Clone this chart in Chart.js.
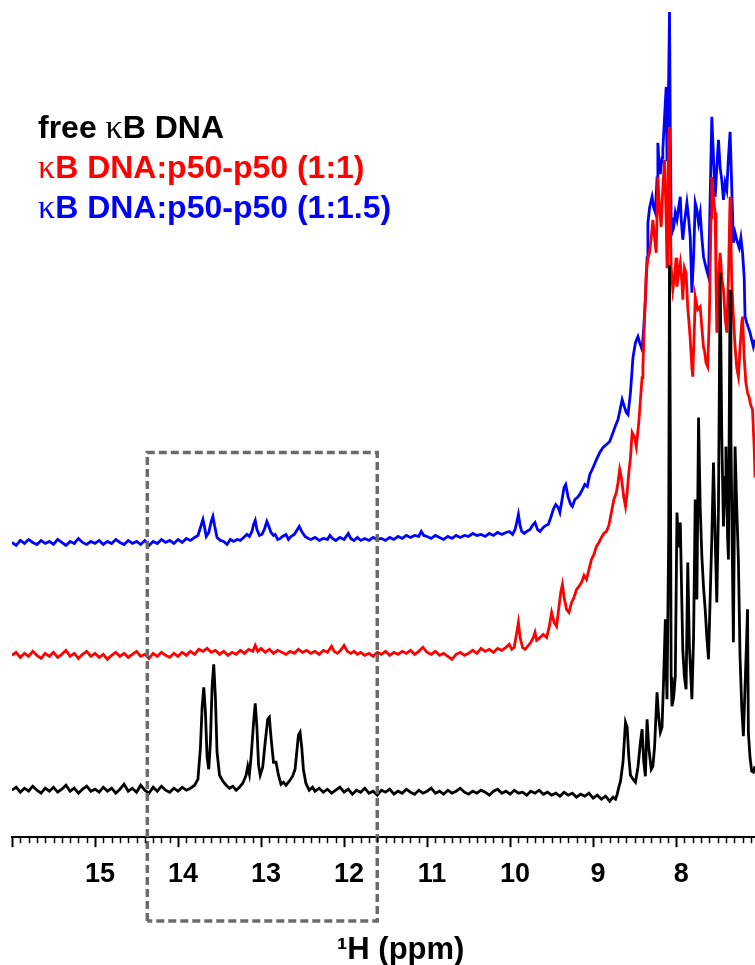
<!DOCTYPE html>
<html>
<head>
<meta charset="utf-8">
<script src="https://cdn.jsdelivr.net/npm/chart.js@4.4.1/dist/chart.umd.min.js"></script>
<style>
    body { margin: 0; background: #fff; }
    #wrap { width: 755px; height: 965px; }
</style>
</head>
<body>
<div id="wrap"><canvas id="nmrChart"></canvas></div>
<script>
// 1H NMR imino / aromatic region, [ppm, intensity (a.u., offset stacked)]
const freeDNA = [
    [16.00, 47], [15.95, 50], [15.90, 45], [15.85, 49], [15.80, 46], [15.75, 51], [15.70, 47], [15.65, 44],
    [15.60, 49], [15.55, 46], [15.50, 50], [15.45, 45], [15.40, 48], [15.35, 52], [15.30, 46], [15.25, 49],
    [15.20, 44], [15.15, 48], [15.10, 51], [15.05, 46], [15.00, 48], [14.95, 45], [14.90, 50], [14.85, 46],
    [14.80, 49], [14.75, 44], [14.70, 48], [14.65, 53], [14.60, 46], [14.55, 49], [14.50, 45], [14.45, 52],
    [14.40, 47], [14.35, 44], [14.30, 50], [14.25, 46], [14.20, 51], [14.15, 47], [14.10, 45], [14.05, 49],
    [14.00, 46], [13.95, 50], [13.90, 47], [13.85, 49], [13.80, 52], [13.76, 58], [13.73, 90], [13.71, 130],
    [13.69, 150], [13.67, 125], [13.65, 80], [13.63, 68], [13.61, 95], [13.59, 150], [13.57, 173], [13.55, 140],
    [13.53, 85], [13.50, 62], [13.46, 56], [13.42, 52], [13.38, 49], [13.34, 51], [13.30, 47], [13.26, 50],
    [13.22, 54], [13.18, 62], [13.16, 71], [13.14, 63], [13.12, 80], [13.09, 115], [13.07, 134], [13.05, 110],
    [13.03, 72], [13.01, 62], [12.98, 70], [12.95, 95], [12.92, 118], [12.90, 120], [12.88, 100], [12.85, 75],
    [12.82, 75], [12.79, 62], [12.76, 53], [12.73, 55], [12.70, 52], [12.66, 56], [12.62, 61], [12.59, 68],
    [12.57, 85], [12.55, 102], [12.53, 105], [12.51, 90], [12.49, 68], [12.46, 54], [12.42, 47], [12.38, 50],
    [12.35, 46], [12.30, 49], [12.25, 45], [12.20, 48], [12.15, 44], [12.10, 47], [12.05, 50], [12.00, 45],
    [11.95, 48], [11.90, 43], [11.85, 47], [11.80, 45], [11.75, 49], [11.70, 44], [11.65, 46], [11.60, 42],
    [11.55, 47], [11.50, 45], [11.45, 48], [11.40, 43], [11.35, 46], [11.30, 44], [11.25, 48], [11.20, 45],
    [11.15, 43], [11.10, 47], [11.05, 44], [11.00, 46], [10.95, 49], [10.90, 44], [10.85, 46], [10.80, 43],
    [10.75, 47], [10.70, 44], [10.65, 46], [10.60, 49], [10.55, 45], [10.50, 43], [10.45, 46], [10.40, 44],
    [10.35, 47], [10.30, 45], [10.25, 42], [10.20, 46], [10.15, 48], [10.10, 44], [10.05, 46], [10.00, 43],
    [9.95, 47], [9.90, 44], [9.85, 45], [9.80, 42], [9.75, 46], [9.70, 44], [9.65, 47], [9.60, 43],
    [9.55, 45], [9.50, 42], [9.45, 44], [9.40, 41], [9.35, 45], [9.30, 42], [9.25, 44], [9.20, 40],
    [9.15, 43], [9.10, 41], [9.05, 44], [9.00, 39], [8.95, 42], [8.90, 38], [8.85, 41], [8.80, 36],
    [8.76, 40], [8.73, 38], [8.71, 43], [8.69, 50], [8.67, 56], [8.64, 75], [8.61, 115], [8.59, 110],
    [8.57, 80], [8.55, 62], [8.52, 58], [8.49, 55], [8.46, 70], [8.43, 95], [8.41, 108], [8.39, 75],
    [8.37, 61], [8.35, 118], [8.33, 90], [8.30, 68], [8.28, 71], [8.26, 90], [8.23, 145], [8.21, 120],
    [8.19, 105], [8.17, 110], [8.15, 160], [8.13, 218], [8.12, 170], [8.11, 138], [8.09, 300], [8.08, 573],
    [8.07, 400], [8.06, 160], [8.05, 131], [8.03, 140], [8.01, 161], [7.99, 325], [7.97, 290], [7.95, 315],
    [7.93, 230], [7.92, 188], [7.90, 160], [7.88, 148], [7.86, 275], [7.84, 190], [7.81, 138], [7.79, 200],
    [7.77, 338], [7.75, 238], [7.73, 420], [7.71, 330], [7.69, 281], [7.67, 250], [7.65, 228], [7.63, 200],
    [7.61, 178], [7.59, 240], [7.57, 300], [7.55, 375], [7.53, 300], [7.51, 235], [7.49, 330], [7.47, 565],
    [7.45, 400], [7.43, 311], [7.41, 360], [7.40, 391], [7.38, 300], [7.37, 278], [7.36, 420], [7.35, 548],
    [7.34, 400], [7.32, 260], [7.31, 195], [7.30, 300], [7.29, 391], [7.27, 330], [7.25, 278], [7.23, 180],
    [7.21, 130], [7.19, 101], [7.17, 150], [7.15, 200], [7.14, 228], [7.13, 105], [7.11, 80], [7.09, 66],
    [7.07, 65], [7.05, 71]
];

const complex11 = [
    [16.00, 182], [15.95, 185], [15.90, 180], [15.85, 184], [15.80, 181], [15.75, 186], [15.70, 182], [15.65, 179],
    [15.60, 184], [15.55, 181], [15.50, 185], [15.45, 180], [15.40, 183], [15.35, 187], [15.30, 181], [15.25, 184],
    [15.20, 179], [15.15, 183], [15.10, 186], [15.05, 181], [15.00, 184], [14.95, 180], [14.90, 183], [14.85, 178],
    [14.80, 182], [14.75, 185], [14.70, 181], [14.65, 184], [14.60, 180], [14.55, 183], [14.50, 186], [14.45, 181],
    [14.40, 183], [14.35, 179], [14.30, 184], [14.25, 181], [14.20, 185], [14.15, 182], [14.10, 180], [14.05, 184],
    [14.00, 181], [13.95, 185], [13.90, 182], [13.85, 186], [13.80, 183], [13.75, 188], [13.70, 186], [13.65, 189],
    [13.60, 185], [13.55, 187], [13.50, 183], [13.45, 186], [13.40, 182], [13.35, 185], [13.30, 183], [13.25, 187],
    [13.20, 184], [13.15, 188], [13.10, 186], [13.07, 192], [13.04, 186], [13.00, 189], [12.95, 185], [12.90, 188],
    [12.85, 184], [12.80, 187], [12.75, 185], [12.70, 183], [12.65, 186], [12.60, 184], [12.55, 188], [12.50, 185],
    [12.45, 187], [12.40, 184], [12.35, 186], [12.30, 183], [12.25, 187], [12.20, 185], [12.15, 191], [12.12, 186],
    [12.08, 184], [12.04, 187], [12.00, 192], [11.96, 186], [11.92, 184], [11.88, 186], [11.84, 183], [11.80, 185],
    [11.75, 182], [11.70, 184], [11.65, 181], [11.60, 185], [11.55, 183], [11.50, 186], [11.45, 182], [11.40, 185],
    [11.35, 183], [11.30, 186], [11.25, 184], [11.20, 187], [11.15, 183], [11.10, 186], [11.05, 190], [11.00, 185],
    [10.95, 183], [10.90, 186], [10.85, 182], [10.80, 184], [10.75, 181], [10.70, 178], [10.65, 183], [10.60, 185],
    [10.55, 182], [10.50, 184], [10.45, 187], [10.40, 184], [10.35, 189], [10.30, 186], [10.25, 188], [10.20, 185],
    [10.15, 189], [10.10, 187], [10.05, 190], [10.01, 193], [9.98, 188], [9.95, 190], [9.92, 205], [9.90, 215],
    [9.88, 200], [9.85, 190], [9.82, 188], [9.78, 192], [9.75, 195], [9.72, 200], [9.70, 205], [9.68, 197],
    [9.65, 199], [9.60, 203], [9.56, 200], [9.53, 210], [9.50, 225], [9.47, 215], [9.44, 211], [9.42, 225],
    [9.39, 245], [9.37, 253], [9.35, 240], [9.32, 228], [9.29, 225], [9.26, 235], [9.23, 240], [9.20, 248],
    [9.17, 251], [9.14, 255], [9.11, 262], [9.08, 258], [9.05, 268], [9.02, 278], [8.99, 283], [8.96, 291],
    [8.93, 295], [8.90, 300], [8.87, 304], [8.84, 306], [8.81, 312], [8.78, 325], [8.75, 338], [8.72, 345],
    [8.70, 355], [8.68, 368], [8.66, 360], [8.63, 340], [8.61, 331], [8.59, 345], [8.57, 365], [8.55, 380],
    [8.53, 405], [8.50, 400], [8.48, 391], [8.45, 415], [8.43, 438], [8.41, 460], [8.40, 471], [8.38, 520],
    [8.36, 565], [8.34, 580], [8.32, 585], [8.30, 600], [8.28, 618], [8.26, 600], [8.24, 585], [8.22, 661],
    [8.20, 630], [8.18, 611], [8.16, 650], [8.14, 678], [8.12, 620], [8.11, 571], [8.10, 630], [8.09, 700],
    [8.08, 711], [8.07, 620], [8.06, 571], [8.04, 548], [8.02, 560], [8.00, 580], [7.99, 551], [7.97, 565],
    [7.95, 575], [7.93, 555], [7.92, 538], [7.90, 570], [7.88, 565], [7.86, 530], [7.84, 510], [7.83, 498],
    [7.81, 470], [7.80, 461], [7.78, 510], [7.77, 541], [7.74, 528], [7.71, 531], [7.69, 510], [7.67, 490],
    [7.66, 488], [7.64, 475], [7.62, 471], [7.60, 520], [7.58, 620], [7.57, 661], [7.55, 640], [7.53, 625],
    [7.52, 560], [7.51, 505], [7.49, 560], [7.47, 585], [7.45, 560], [7.43, 548], [7.41, 520], [7.39, 505],
    [7.37, 560], [7.35, 641], [7.34, 600], [7.33, 555], [7.31, 520], [7.29, 491], [7.27, 470], [7.25, 461],
    [7.23, 490], [7.21, 515], [7.20, 521], [7.18, 480], [7.16, 455], [7.14, 445], [7.12, 440], [7.10, 432],
    [7.08, 428], [7.06, 390], [7.05, 360]
];

const complex115 = [
    [16.00, 295], [15.95, 292], [15.90, 297], [15.85, 294], [15.80, 298], [15.75, 295], [15.70, 293], [15.65, 297],
    [15.60, 294], [15.55, 296], [15.50, 293], [15.45, 298], [15.40, 295], [15.35, 292], [15.30, 296], [15.25, 294],
    [15.20, 299], [15.15, 295], [15.10, 293], [15.05, 296], [15.00, 294], [14.95, 297], [14.90, 293], [14.85, 296],
    [14.80, 294], [14.75, 298], [14.70, 295], [14.65, 293], [14.60, 297], [14.55, 294], [14.50, 296], [14.45, 293],
    [14.40, 297], [14.35, 292], [14.30, 296], [14.25, 294], [14.20, 298], [14.15, 295], [14.10, 297], [14.05, 294],
    [14.00, 298], [13.95, 295], [13.90, 299], [13.85, 297], [13.80, 300], [13.76, 302], [13.73, 310], [13.70, 318],
    [13.68, 310], [13.66, 301], [13.63, 305], [13.60, 316], [13.58, 321], [13.56, 312], [13.53, 300], [13.49, 297],
    [13.45, 296], [13.41, 293], [13.37, 298], [13.33, 296], [13.29, 298], [13.25, 297], [13.21, 300], [13.17, 303],
    [13.14, 301], [13.11, 306], [13.09, 313], [13.07, 317], [13.05, 308], [13.02, 302], [12.99, 303], [12.96, 308],
    [12.93, 316], [12.91, 312], [12.88, 305], [12.85, 302], [12.83, 303], [12.80, 298], [12.77, 299], [12.74, 301],
    [12.70, 303], [12.67, 298], [12.64, 301], [12.60, 303], [12.57, 307], [12.54, 311], [12.51, 306], [12.47, 301],
    [12.43, 299], [12.40, 298], [12.35, 300], [12.30, 297], [12.25, 299], [12.20, 298], [12.17, 302], [12.14, 299],
    [12.10, 297], [12.05, 300], [12.00, 298], [11.95, 304], [11.92, 299], [11.88, 297], [11.84, 300], [11.80, 297],
    [11.75, 299], [11.70, 297], [11.65, 300], [11.60, 298], [11.55, 299], [11.50, 297], [11.45, 300], [11.40, 298],
    [11.35, 301], [11.30, 299], [11.25, 302], [11.20, 300], [11.15, 302], [11.10, 301], [11.07, 306], [11.04, 302],
    [11.00, 301], [10.95, 299], [10.90, 302], [10.85, 300], [10.80, 298], [10.75, 301], [10.70, 299], [10.65, 302],
    [10.60, 300], [10.55, 302], [10.50, 301], [10.45, 304], [10.40, 302], [10.35, 303], [10.30, 301], [10.25, 304],
    [10.20, 302], [10.15, 305], [10.10, 303], [10.05, 305], [10.01, 306], [9.97, 303], [9.94, 308], [9.92, 315],
    [9.90, 323], [9.88, 312], [9.86, 306], [9.83, 304], [9.80, 306], [9.76, 308], [9.73, 312], [9.70, 315],
    [9.67, 308], [9.64, 306], [9.60, 310], [9.57, 312], [9.54, 313], [9.51, 320], [9.48, 328], [9.45, 333],
    [9.42, 330], [9.40, 325], [9.37, 340], [9.35, 350], [9.33, 353], [9.30, 340], [9.27, 333], [9.25, 331],
    [9.22, 338], [9.19, 340], [9.16, 343], [9.13, 348], [9.10, 353], [9.07, 351], [9.04, 363], [9.00, 370],
    [8.96, 378], [8.92, 385], [8.88, 390], [8.84, 393], [8.80, 396], [8.76, 405], [8.73, 412], [8.70, 418],
    [8.67, 430], [8.65, 438], [8.62, 430], [8.60, 425], [8.58, 423], [8.55, 445], [8.52, 480], [8.49, 495],
    [8.46, 501], [8.44, 495], [8.41, 488], [8.39, 510], [8.37, 538], [8.35, 580], [8.34, 615], [8.32, 630],
    [8.29, 641], [8.27, 630], [8.25, 625], [8.23, 660], [8.22, 695], [8.20, 665], [8.19, 665], [8.17, 680],
    [8.16, 688], [8.14, 720], [8.12, 751], [8.11, 678], [8.10, 720], [8.09, 760], [8.08, 826], [8.07, 700],
    [8.06, 620], [8.05, 605], [8.03, 610], [8.01, 625], [7.99, 618], [7.97, 630], [7.95, 641], [7.94, 620],
    [7.92, 598], [7.90, 615], [7.87, 635], [7.85, 620], [7.83, 600], [7.81, 545], [7.79, 580], [7.77, 635],
    [7.75, 628], [7.73, 615], [7.71, 625], [7.69, 600], [7.67, 581], [7.64, 570], [7.61, 561], [7.59, 640],
    [7.57, 721], [7.55, 680], [7.53, 641], [7.51, 670], [7.49, 698], [7.47, 670], [7.45, 658], [7.43, 638],
    [7.41, 655], [7.39, 648], [7.37, 680], [7.35, 706], [7.33, 650], [7.31, 595], [7.29, 605], [7.27, 598],
    [7.24, 590], [7.22, 600], [7.20, 585], [7.18, 560], [7.17, 521], [7.15, 515], [7.13, 510], [7.11, 505],
    [7.09, 498], [7.07, 491], [7.05, 498]
];

// legend text: kappa is set in a serif face like the original figure
const seriesNames = [['free ', '\u03ba', 'B DNA'], ['', '\u03ba', 'B DNA:p50-p50 (1:1)'], ['', '\u03ba', 'B DNA:p50-p50 (1:1.5)']];
const seriesColors = ['#000000', '#ff0000', '#0000ff'];

// imino region highlighted by the dashed box
const boxPpm = [14.37, 11.60];
const boxInt = [-84, 385];

const axisTicks = [15, 14, 13, 12, 11, 10, 9, 8];

const toXY = arr => arr.map(p => ({ x: p[0], y: p[1] }));

// minor ticks (0.1 ppm) + the text legend
const nmrDecor = {
    id: 'nmrDecor',
    afterDraw(chart) {
        const ctx = chart.ctx;
        const xs = chart.scales.x;
        ctx.save();
        ctx.strokeStyle = '#000';
        ctx.lineWidth = 1.5;
        for (let i = 71; i <= 160; i++) {
            if (i % 10 === 0) continue;
            const px = Math.round(xs.getPixelForValue(i / 10)) + 0.5;
            ctx.beginPath();
            ctx.moveTo(px, xs.top);
            ctx.lineTo(px, xs.top + 6);
            ctx.stroke();
        }
        const sans = 'bold 32px "Liberation Sans", Arial, sans-serif';
        const serif = '34px "Liberation Serif", "Times New Roman", serif';
        ctx.textBaseline = 'alphabetic';
        seriesNames.forEach((parts, i) => {
            let x = 38;
            const y = 138 + i * 40;
            ctx.fillStyle = seriesColors[i];
            parts.forEach((txt, k) => {
                ctx.font = k === 1 ? serif : sans;
                ctx.fillText(txt, x, y);
                x += ctx.measureText(txt).width;
            });
        });
        ctx.restore();
    }
};

Chart.defaults.font.family = '"Liberation Sans", Arial, sans-serif';

const ctx = document.getElementById('nmrChart').getContext('2d');
const myChart = new Chart(ctx, {
    type: 'line',
    data: {
        datasets: [
            {
                label: 'box',
                data: [
                    { x: boxPpm[0], y: boxInt[0] }, { x: boxPpm[0], y: boxInt[1] },
                    { x: boxPpm[1], y: boxInt[1] }, { x: boxPpm[1], y: boxInt[0] },
                    { x: boxPpm[0], y: boxInt[0] }
                ],
                borderColor: '#6b6b6b',
                borderWidth: 3.5,
                borderDash: [8, 4],
                pointRadius: 0,
                clip: false
            },
            { label: 'free', data: toXY(freeDNA), borderColor: seriesColors[0], borderWidth: 2.8, pointRadius: 0 },
            { label: '1:1', data: toXY(complex11), borderColor: seriesColors[1], borderWidth: 2.8, pointRadius: 0 },
            { label: '1:1.5', data: toXY(complex115), borderColor: seriesColors[2], borderWidth: 2.8, pointRadius: 0 }
        ]
    },
    options: {
        responsive: true,
        maintainAspectRatio: false,
        animation: false,
        layout: { padding: { left: 12, right: 0, top: 0, bottom: 0 } },
        plugins: {
            legend: { display: false },
            tooltip: { enabled: false }
        },
        scales: {
            x: {
                type: 'linear',
                reverse: true,
                min: 7.05,
                max: 16.0,
                border: { display: true, color: '#000', width: 2 },
                grid: { drawOnChartArea: false, tickLength: 10, tickWidth: 2, tickColor: '#000' },
                ticks: {
                    stepSize: 1,
                    includeBounds: false,
                    autoSkip: false,
                    maxRotation: 0,
                    padding: 11,
                    labelOffset: 5,
                    color: '#000',
                    font: { family: '"Liberation Sans Narrow", "Liberation Sans", Arial, sans-serif', size: 27, weight: 'bold' },
                    callback: v => axisTicks.includes(v) ? String(v) : ''
                },
                title: {
                    display: true,
                    // leading spaces push the centred title right, as in the figure
                    text: '\u00a0\u00a0\u00a0\u00a0\u00b9H (ppm)',
                    color: '#000',
                    font: { size: 31, weight: 'bold', lineHeight: 0.95 },
                    padding: { top: 34, bottom: 0 }
                }
            },
            y: {
                display: false,
                min: 0,
                max: 838
            }
        }
    },
    plugins: [nmrDecor]
});
</script>
</body>
</html>
